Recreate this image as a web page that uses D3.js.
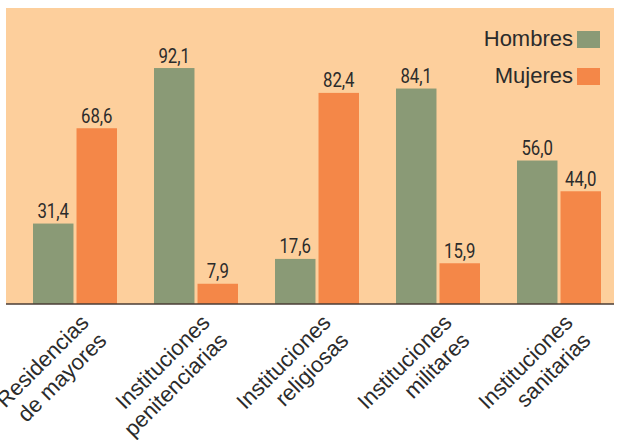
<!DOCTYPE html>
<html>
<head>
<meta charset="utf-8">
<script src="https://cdn.jsdelivr.net/npm/d3@7"></script>
<style>
  body { margin: 0; background: #fff; }
</style>
</head>
<body>
<div id="chart"></div>
<script>
var w = 617;
var h = 440;

var categories = ["Residencias de mayores", "Instituciones penitenciarias",
    "Instituciones religiosas", "Instituciones militares", "Instituciones sanitarias"];
var labelLines = [["Residencias", "de mayores"], ["Instituciones", "penitenciarias"],
    ["Instituciones", "religiosas"], ["Instituciones", "militares"], ["Instituciones", "sanitarias"]];
var series = ["Hombres", "Mujeres"];
var hombres = [31.4, 92.1, 17.6, 84.1, 56.0];
var mujeres = [68.6, 7.9, 82.4, 15.9, 44.0];

var colors = {Hombres: "#8A9A76", Mujeres: "#F48748"};
var baseY = 304;

var locale = d3.formatLocale({decimal: ",", thousands: ".", grouping: [3], currency: ["", "€"]});
var fmt = locale.format(".1f");

//Create SVG element
var svg = d3.select("#chart")
    .append("svg")
    .attr("width", w)
    .attr("height", h);

// peach panel
svg.append("rect")
    .attr("x", 6)
    .attr("y", 8)
    .attr("width", 608)
    .attr("height", baseY - 8)
    .attr("fill", "#FDCF9C");

var x0 = d3.scaleBand()
    .domain(categories)
    .range([14.5, 619.5])
    .paddingInner(0.306)
    .paddingOuter(0.153);

var x1 = d3.scaleBand()
    .domain(series)
    .range([0, x0.bandwidth()])
    .paddingInner(0.07);

var y = d3.scaleLinear()
    .domain([0, 100])
    .range([baseY, baseY - 256.2]);

var rows = categories.map(function (c, i) {
    return {cat: c, vals: [
        {s: "Hombres", v: hombres[i]},
        {s: "Mujeres", v: mujeres[i]}
    ]};
});

var groups = svg.selectAll("g.grp")
    .data(rows)
    .enter()
    .append("g")
    .attr("class", "grp")
    .attr("transform", function (d) {
        return "translate(" + x0(d.cat) + ",0)";
    });

groups.selectAll("rect")
    .data(function (d) { return d.vals; })
    .enter()
    .append("rect")
    .attr("x", function (d) { return x1(d.s); })
    .attr("y", function (d) { return y(d.v); })
    .attr("width", x1.bandwidth())
    .attr("height", function (d) { return baseY - y(d.v); })
    .attr("fill", function (d) { return colors[d.s]; });

// value labels: narrow face faked by squeezing Roboto horizontally
groups.selectAll("text.val")
    .data(function (d) { return d.vals; })
    .enter()
    .append("text")
    .attr("class", "val")
    .attr("transform", function (d) {
        return "translate(" + (x1(d.s) + x1.bandwidth() / 2) + "," + (y(d.v) - 5.5) + ") scale(0.84,1)";
    })
    .attr("text-anchor", "middle")
    .attr("font-family", "Roboto, sans-serif")
    .attr("font-size", 20)
    .attr("fill", "#2b2b2b")
    .text(function (d) { return fmt(d.v); });

// baseline
svg.append("line")
    .attr("x1", 6)
    .attr("x2", 614)
    .attr("y1", baseY)
    .attr("y2", baseY)
    .attr("stroke", "#4a3c36")
    .attr("stroke-width", 1.6);

// category labels, rotated
var labels = svg.selectAll("text.cat")
    .data(categories)
    .enter()
    .append("text")
    .attr("class", "cat")
    .attr("transform", function (d) {
        var cx = x0(d) + x0.bandwidth() / 2;
        return "translate(" + (cx + 15) + ",324) rotate(-45)";
    })
    .attr("text-anchor", "end")
    .attr("font-family", "'Liberation Sans', Arial, sans-serif")
    .attr("font-size", 22)
    .attr("fill", "#2b2b2b");

labels.selectAll("tspan")
    .data(function (d, i) { return labelLines[i]; })
    .enter()
    .append("tspan")
    .attr("x", 0)
    .attr("dy", function (d, i) { return i === 0 ? 0 : "1.15em"; })
    .text(function (d) { return d; });

// legend
var legend = svg.selectAll("g.leg")
    .data(series)
    .enter()
    .append("g")
    .attr("class", "leg")
    .attr("transform", function (d, i) {
        return "translate(0," + (i * 37) + ")";
    });

legend.append("rect")
    .attr("x", 577)
    .attr("y", 31)
    .attr("width", 23)
    .attr("height", 17)
    .attr("fill", function (d) { return colors[d]; });

legend.append("text")
    .attr("x", 573)
    .attr("y", 45.5)
    .attr("text-anchor", "end")
    .attr("font-family", "'Liberation Sans', Arial, sans-serif")
    .attr("font-size", 22)
    .attr("fill", "#2b2b2b")
    .text(function (d) { return d; });
</script>
</body>
</html>
